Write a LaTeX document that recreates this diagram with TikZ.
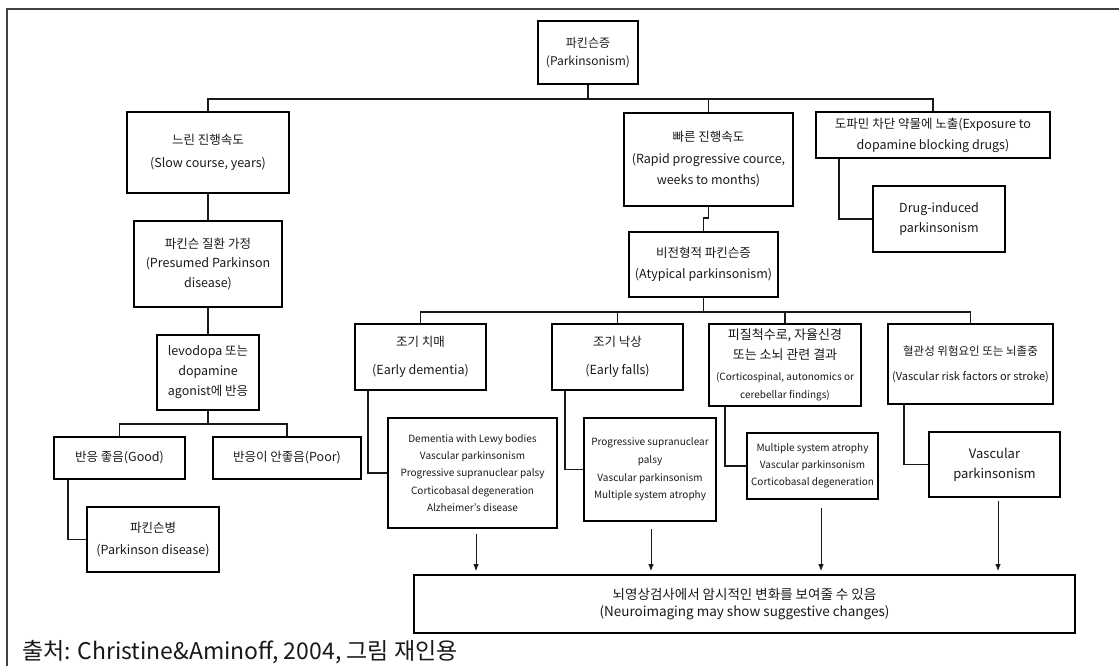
\documentclass[tikz,border=0pt]{standalone}
\usepackage{fontspec}
\setmainfont{Noto Sans CJK KR}
\usetikzlibrary{arrows.meta,calc}
\begin{document}
\begin{tikzpicture}[x=1pt,y=-1pt,
  box/.style={draw=black, line width=1.7pt, rectangle, inner sep=0pt, align=center, text=black!90},
  conn/.style={line width=1.5pt, draw=black!90},
  arr/.style={line width=1pt, draw=black!90, -{Latex[length=7pt,width=5.5pt]}, shorten >=3pt},
  frame/.style={line width=1.5pt, draw=black!75}]
\useasboundingbox (0,0) rectangle (1119,665);
\draw[frame] (7,666) -- (7,9) -- (1120,9);

% nodes
\node[box, minimum width=100pt, minimum height=63pt, font=\fontsize{12}{18}\selectfont] (top) at (588,52.5) {파킨슨증\\(Parkinsonism)};
\node[box, minimum width=162pt, minimum height=81pt, font=\fontsize{12.5}{23}\selectfont] (slow) at (208,152.5) {느린 진행속도\\(Slow course, years)};
\node[box, minimum width=169pt, minimum height=93pt, font=\fontsize{12.5}{21.5}\selectfont] (rapid) at (708.5,159.5) {빠른 진행속도\\(Rapid progressive cource,\\weeks to months)};
\node[box, minimum width=234pt, minimum height=46pt, font=\fontsize{12.5}{21}\selectfont] (expo) at (933,135) {도파민 차단 약물에 노출(Exposure to\\dopamine blocking drugs)};
\node[box, minimum width=132pt, minimum height=66pt, font=\fontsize{12.5}{20}\selectfont] (drug) at (939,219) {Drug-induced\\parkinsonism};
\node[box, minimum width=148pt, minimum height=86pt, font=\fontsize{12.5}{19.5}\selectfont] (presumed) at (208,264) {파킨슨 질환 가정\\(Presumed Parkinson\\disease)};
\node[box, minimum width=102pt, minimum height=75pt, font=\fontsize{12.5}{20}\selectfont] (levo) at (208,372.5) {levodopa 또는\\dopamine\\agonist에 반응};
\node[box, minimum width=131pt, minimum height=42pt, font=\fontsize{12.5}{20}\selectfont] (good) at (119.5,458) {반응 좋음(Good)};
\node[box, minimum width=148pt, minimum height=42pt, font=\fontsize{12.5}{20}\selectfont] (poor) at (287,458) {반응이 안좋음(Poor)};
\node[box, minimum width=132pt, minimum height=65pt, font=\fontsize{12.5}{22}\selectfont] (pd) at (153,539.5) {파킨슨병\\(Parkinson disease)};
\node[box, minimum width=149pt, minimum height=65pt, font=\fontsize{12.5}{21}\selectfont] (atyp) at (703.5,264.5) {비전형적 파킨슨증\\(Atypical parkinsonism)};
\node[box, minimum width=131pt, minimum height=66pt, font=\fontsize{12.5}{28}\selectfont] (dem) at (420.5,357) {조기 치매\\(Early dementia)};
\node[box, minimum width=131pt, minimum height=66pt, font=\fontsize{12.5}{28}\selectfont] (falls) at (617.5,357) {조기 낙상\\(Early falls)};
\node[box, minimum width=152pt, minimum height=82pt, font=\fontsize{10}{18}\selectfont] (cort) at (785,365) {{\fontsize{13}{20}\selectfont 피질척수로, 자율신경}\\[2pt]{\fontsize{13}{20}\selectfont 또는 소뇌 관련 결과}\\[3pt](Corticospinal, autonomics or\\cerebellar findings)};
\node[box, minimum width=165pt, minimum height=80pt, font=\fontsize{11}{25}\selectfont] (vrisk) at (970.5,364) {{\fontsize{11.5}{25}\selectfont 혈관성 위험요인 또는 뇌졸중}\\(Vascular risk factors or stroke)};
\node[box, minimum width=169pt, minimum height=110pt, font=\fontsize{10}{17.3}\selectfont] (demlist) at (472.5,473) {Dementia with Lewy bodies\\Vascular parkinsonism\\Progressive supranuclear palsy\\Corticobasal degeneration\\Alzheimer's disease};
\node[box, minimum width=132pt, minimum height=103pt, font=\fontsize{10}{17.7}\selectfont] (falllist) at (650,469.5) {Progressive supranuclear\\palsy\\Vascular parkinsonism\\Multiple system atrophy};
\node[box, minimum width=131pt, minimum height=66pt, font=\fontsize{10}{17}\selectfont] (cortlist) at (812.5,466) {Multiple system atrophy\\Vascular parkinsonism\\Corticobasal degeneration};
\node[box, minimum width=131pt, minimum height=65pt, font=\fontsize{13}{20}\selectfont] (vpark) at (994.5,464.5) {Vascular\\parkinsonism};
\node[box, minimum width=661pt, minimum height=58pt, font=\fontsize{13.5}{17}\selectfont] (neuro) at (744.5,604) {뇌영상검사에서 암시적인 변화를 보여줄 수 있음\\(Neuroimaging may show suggestive changes)};
\node[anchor=base west, inner sep=0pt, text=black!90, font=\fontsize{23}{26}\selectfont] (src) at (22,659) {출처: Christine\&Aminoff, 2004, 그림 재인용};

% connectors
\coordinate (bus1) at (588,99);
\draw[conn] (top.south) -- (bus1);
\draw[conn] (slow.north) |- (bus1);
\draw[conn] (rapid.north) |- (bus1);
\draw[conn] (expo.north) |- (bus1);
\draw[conn] (slow.south) -- (presumed.north);
\draw[conn] (presumed.south) -- (levo.north);
\coordinate (bus2) at (208,424);
\draw[conn] (levo.south) -- (bus2);
\draw[conn] (good.north) |- (bus2);
\draw[conn] (poor.north) |- (bus2);
\draw[conn] ($(good.south)+(-51.5,0)$) |- (pd.west);
\draw[conn] (rapid.south) -- ++(0,11) -| (atyp.north);
\draw[conn] ($(expo.south)+(-94,0)$) |- (drug.west);
\coordinate (bus3) at (703.5,312);
\draw[conn] (atyp.south) -- (bus3);
\draw[conn] (dem.north) |- (bus3);
\draw[conn] (falls.north) |- (bus3);
\draw[conn] (cort.north) |- (bus3);
\draw[conn] (vrisk.north) |- (bus3);
\draw[conn] ($(dem.south)+(-52.5,0)$) |- (demlist.west);
\draw[conn] ($(falls.south)+(-52.5,0)$) |- (falllist.west);
\draw[conn] ($(cort.south)+(-60,0)$) |- (cortlist.west);
\draw[conn] ($(vrisk.south)+(-66.5,0)$) |- (vpark.west);

% arrows
\coordinate (a1) at ($(demlist.south)+(3.5,5)$);
\coordinate (a2) at ($(falllist.south)+(1,7)$);
\coordinate (a3) at ($(cortlist.south)+(8.5,8)$);
\coordinate (a4) at ($(vpark.south)+(3.5,3)$);
\draw[arr] (a1) -- (a1 |- neuro.north);
\draw[arr] (a2) -- (a2 |- neuro.north);
\draw[arr] (a3) -- (a3 |- neuro.north);
\draw[arr] (a4) -- (a4 |- neuro.north);
\end{tikzpicture}
\end{document}
